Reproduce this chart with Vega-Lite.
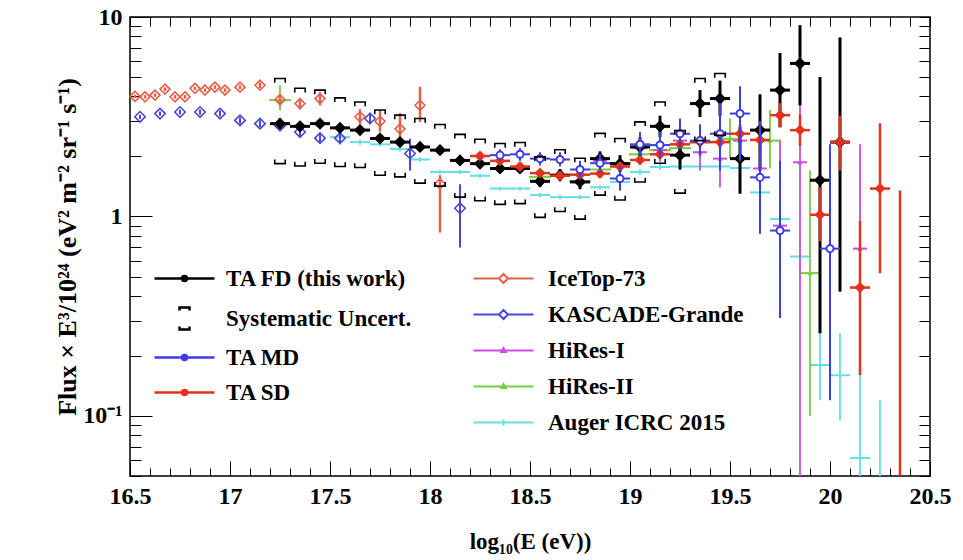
{
"$schema": "https://vega.github.io/schema/vega-lite/v6.json",
"width": 800, "height": 459,
"autosize": {"type": "none"},
"padding": {"left": 130, "top": 17, "right": 33, "bottom": 84},
"background": "white",
"config": {"font": "Liberation Serif", "view": {"stroke": "black", "strokeWidth": 1.5}},
"datasets": {
"d": [
{"s":"FD","e":17.25,"v":2.92,"lo":2.75,"hi":3.10},
{"s":"FD","e":17.35,"v":2.83,"lo":2.68,"hi":2.98},
{"s":"FD","e":17.45,"v":2.92,"lo":2.78,"hi":3.06},
{"s":"FD","e":17.55,"v":2.78,"lo":2.66,"hi":2.90},
{"s":"FD","e":17.65,"v":2.71,"lo":2.60,"hi":2.83},
{"s":"FD","e":17.75,"v":2.46,"lo":2.36,"hi":2.56},
{"s":"FD","e":17.85,"v":2.36,"lo":2.27,"hi":2.46},
{"s":"FD","e":17.95,"v":2.23,"lo":2.14,"hi":2.33},
{"s":"FD","e":18.05,"v":2.15,"lo":2.06,"hi":2.25},
{"s":"FD","e":18.15,"v":1.91,"lo":1.83,"hi":2.00},
{"s":"FD","e":18.25,"v":1.84,"lo":1.76,"hi":1.93},
{"s":"FD","e":18.35,"v":1.74,"lo":1.66,"hi":1.83},
{"s":"FD","e":18.45,"v":1.74,"lo":1.65,"hi":1.84},
{"s":"FD","e":18.55,"v":1.50,"lo":1.41,"hi":1.60},
{"s":"FD","e":18.65,"v":1.61,"lo":1.50,"hi":1.73},
{"s":"FD","e":18.75,"v":1.49,"lo":1.37,"hi":1.62},
{"s":"FD","e":18.85,"v":1.95,"lo":1.80,"hi":2.12},
{"s":"FD","e":18.95,"v":1.84,"lo":1.67,"hi":2.03},
{"s":"FD","e":19.05,"v":2.23,"lo":2.00,"hi":2.50},
{"s":"FD","e":19.15,"v":2.83,"lo":2.50,"hi":3.20},
{"s":"FD","e":19.25,"v":2.03,"lo":1.72,"hi":2.40},
{"s":"FD","e":19.35,"v":3.68,"lo":3.15,"hi":4.30},
{"s":"FD","e":19.45,"v":3.90,"lo":3.20,"hi":4.80},
{"s":"FD","e":19.55,"v":1.95,"lo":1.30,"hi":2.80},
{"s":"FD","e":19.65,"v":2.71,"lo":1.75,"hi":4.10},
{"s":"FD","e":19.75,"v":4.30,"lo":2.80,"hi":6.60},
{"s":"FD","e":19.85,"v":5.85,"lo":3.60,"hi":9.10},
{"s":"FD","e":19.95,"v":1.52,"lo":0.26,"hi":5.00},
{"s":"FD","e":20.05,"v":2.36,"lo":0.42,"hi":7.90},
{"s":"SD","e":18.25,"v":2.01,"lo":1.93,"hi":2.10},
{"s":"SD","e":18.35,"v":1.90,"lo":1.84,"hi":1.96},
{"s":"SD","e":18.45,"v":1.78,"lo":1.73,"hi":1.83},
{"s":"SD","e":18.55,"v":1.65,"lo":1.60,"hi":1.70},
{"s":"SD","e":18.65,"v":1.60,"lo":1.56,"hi":1.64},
{"s":"SD","e":18.75,"v":1.62,"lo":1.58,"hi":1.67},
{"s":"SD","e":18.85,"v":1.64,"lo":1.59,"hi":1.69},
{"s":"SD","e":18.95,"v":1.78,"lo":1.72,"hi":1.84},
{"s":"SD","e":19.05,"v":1.92,"lo":1.85,"hi":2.00},
{"s":"SD","e":19.15,"v":2.05,"lo":1.96,"hi":2.15},
{"s":"SD","e":19.25,"v":2.30,"lo":2.18,"hi":2.43},
{"s":"SD","e":19.35,"v":2.36,"lo":2.20,"hi":2.53},
{"s":"SD","e":19.45,"v":2.36,"lo":2.17,"hi":2.57},
{"s":"SD","e":19.55,"v":2.60,"lo":2.35,"hi":2.90},
{"s":"SD","e":19.65,"v":2.42,"lo":2.12,"hi":2.78},
{"s":"SD","e":19.75,"v":3.22,"lo":2.80,"hi":3.70},
{"s":"SD","e":19.85,"v":2.71,"lo":2.25,"hi":3.25},
{"s":"SD","e":19.95,"v":1.02,"lo":0.75,"hi":1.40},
{"s":"SD","e":20.05,"v":2.36,"lo":1.70,"hi":3.20},
{"s":"SD","e":20.15,"v":0.44,"lo":0.16,"hi":0.95},
{"s":"SD","e":20.25,"v":1.38,"lo":0.52,"hi":2.93},
{"s":"SD","e":20.35,"v":0.02,"lo":0.02,"hi":1.35},
{"s":"MD","e":18.35,"v":2.03,"lo":1.90,"hi":2.17},
{"s":"MD","e":18.45,"v":2.05,"lo":1.90,"hi":2.20},
{"s":"MD","e":18.55,"v":1.95,"lo":1.80,"hi":2.10},
{"s":"MD","e":18.65,"v":1.93,"lo":1.78,"hi":2.10},
{"s":"MD","e":18.75,"v":1.72,"lo":1.55,"hi":1.90},
{"s":"MD","e":18.85,"v":1.85,"lo":1.65,"hi":2.05},
{"s":"MD","e":18.95,"v":1.55,"lo":1.35,"hi":1.78},
{"s":"MD","e":19.05,"v":2.30,"lo":2.00,"hi":2.65},
{"s":"MD","e":19.15,"v":2.28,"lo":1.95,"hi":2.65},
{"s":"MD","e":19.25,"v":2.60,"lo":2.20,"hi":3.10},
{"s":"MD","e":19.35,"v":2.40,"lo":2.00,"hi":2.90},
{"s":"MD","e":19.45,"v":2.60,"lo":1.70,"hi":3.70},
{"s":"MD","e":19.55,"v":3.28,"lo":1.90,"hi":4.50},
{"s":"MD","e":19.65,"v":1.57,"lo":0.82,"hi":3.00},
{"s":"MD","e":19.75,"v":0.85,"lo":0.31,"hi":1.90},
{"s":"MD","e":20.0,"v":0.69,"lo":0.12,"hi":2.30},
{"s":"KG","e":16.55,"v":3.16,"lo":3.08,"hi":3.24},
{"s":"KG","e":16.65,"v":3.28,"lo":3.20,"hi":3.36},
{"s":"KG","e":16.75,"v":3.34,"lo":3.25,"hi":3.43},
{"s":"KG","e":16.85,"v":3.34,"lo":3.24,"hi":3.44},
{"s":"KG","e":16.95,"v":3.28,"lo":3.17,"hi":3.39},
{"s":"KG","e":17.05,"v":3.03,"lo":2.92,"hi":3.14},
{"s":"KG","e":17.15,"v":2.92,"lo":2.80,"hi":3.04},
{"s":"KG","e":17.25,"v":2.85,"lo":2.72,"hi":2.98},
{"s":"KG","e":17.35,"v":2.65,"lo":2.50,"hi":2.80},
{"s":"KG","e":17.45,"v":2.47,"lo":2.35,"hi":2.60},
{"s":"KG","e":17.55,"v":2.47,"lo":2.30,"hi":2.65},
{"s":"KG","e":17.7,"v":3.10,"lo":2.90,"hi":3.30},
{"s":"KG","e":17.9,"v":2.07,"lo":1.70,"hi":2.45},
{"s":"KG","e":18.15,"v":1.10,"lo":0.70,"hi":1.45},
{"s":"IT","e":16.525,"v":4.00,"lo":3.92,"hi":4.08},
{"s":"IT","e":16.575,"v":3.98,"lo":3.90,"hi":4.06},
{"s":"IT","e":16.625,"v":4.06,"lo":3.98,"hi":4.14},
{"s":"IT","e":16.675,"v":4.35,"lo":4.26,"hi":4.44},
{"s":"IT","e":16.725,"v":3.98,"lo":3.90,"hi":4.06},
{"s":"IT","e":16.775,"v":3.98,"lo":3.90,"hi":4.06},
{"s":"IT","e":16.825,"v":4.39,"lo":4.30,"hi":4.48},
{"s":"IT","e":16.875,"v":4.30,"lo":4.21,"hi":4.39},
{"s":"IT","e":16.925,"v":4.45,"lo":4.36,"hi":4.54},
{"s":"IT","e":16.975,"v":4.30,"lo":4.21,"hi":4.39},
{"s":"IT","e":17.05,"v":4.45,"lo":4.35,"hi":4.55},
{"s":"IT","e":17.15,"v":4.55,"lo":4.40,"hi":4.70},
{"s":"IT","e":17.25,"v":3.85,"lo":3.60,"hi":4.10},
{"s":"IT","e":17.35,"v":3.68,"lo":3.45,"hi":3.90},
{"s":"IT","e":17.45,"v":3.90,"lo":3.60,"hi":4.20},
{"s":"IT","e":17.65,"v":3.16,"lo":2.90,"hi":3.45},
{"s":"IT","e":17.75,"v":3.00,"lo":2.66,"hi":3.42},
{"s":"IT","e":17.85,"v":2.75,"lo":2.50,"hi":3.30},
{"s":"IT","e":17.95,"v":3.61,"lo":2.98,"hi":4.47},
{"s":"IT","e":18.05,"v":1.46,"lo":0.83,"hi":1.61},
{"s":"H1","e":18.85,"v":1.90,"lo":1.75,"hi":2.06},
{"s":"H1","e":18.95,"v":1.80,"lo":1.62,"hi":2.00},
{"s":"H1","e":19.05,"v":2.20,"lo":1.95,"hi":2.48},
{"s":"H1","e":19.15,"v":2.15,"lo":1.88,"hi":2.46},
{"s":"H1","e":19.25,"v":2.40,"lo":2.05,"hi":2.80},
{"s":"H1","e":19.35,"v":2.10,"lo":1.70,"hi":2.60},
{"s":"H1","e":19.45,"v":1.95,"lo":1.40,"hi":2.50},
{"s":"H1","e":19.55,"v":2.40,"lo":1.75,"hi":3.20},
{"s":"H1","e":19.65,"v":1.74,"lo":0.95,"hi":2.70},
{"s":"H1","e":19.75,"v":0.90,"lo":0.31,"hi":2.40},
{"s":"H1","e":19.85,"v":1.87,"lo":0.04,"hi":3.80},
{"s":"H1","e":20.15,"v":0.69,"lo":0.31,"hi":2.30},
{"s":"H2","e":17.25,"v":3.83,"lo":3.40,"hi":4.55},
{"s":"H2","e":18.55,"v":1.58,"lo":1.50,"hi":1.66},
{"s":"H2","e":18.65,"v":1.62,"lo":1.53,"hi":1.71},
{"s":"H2","e":18.75,"v":1.50,"lo":1.40,"hi":1.60},
{"s":"H2","e":18.85,"v":1.72,"lo":1.60,"hi":1.85},
{"s":"H2","e":18.95,"v":1.85,"lo":1.70,"hi":2.00},
{"s":"H2","e":19.05,"v":2.05,"lo":1.87,"hi":2.25},
{"s":"H2","e":19.15,"v":2.15,"lo":1.93,"hi":2.40},
{"s":"H2","e":19.25,"v":2.20,"lo":1.95,"hi":2.50},
{"s":"H2","e":19.35,"v":2.35,"lo":2.05,"hi":2.70},
{"s":"H2","e":19.5,"v":2.45,"lo":1.95,"hi":3.10},
{"s":"H2","e":19.7,"v":2.40,"lo":1.74,"hi":3.42},
{"s":"H2","e":19.9,"v":0.52,"lo":0.10,"hi":1.70},
{"s":"AU","e":17.55,"v":2.50,"lo":2.42,"hi":2.58},
{"s":"AU","e":17.65,"v":2.36,"lo":2.29,"hi":2.43},
{"s":"AU","e":17.75,"v":2.30,"lo":2.24,"hi":2.36},
{"s":"AU","e":17.85,"v":2.18,"lo":2.12,"hi":2.24},
{"s":"AU","e":17.95,"v":1.93,"lo":1.88,"hi":1.98},
{"s":"AU","e":18.05,"v":1.67,"lo":1.63,"hi":1.71},
{"s":"AU","e":18.15,"v":1.67,"lo":1.63,"hi":1.71},
{"s":"AU","e":18.25,"v":1.60,"lo":1.56,"hi":1.64},
{"s":"AU","e":18.35,"v":1.38,"lo":1.35,"hi":1.41},
{"s":"AU","e":18.45,"v":1.38,"lo":1.35,"hi":1.41},
{"s":"AU","e":18.55,"v":1.28,"lo":1.25,"hi":1.31},
{"s":"AU","e":18.65,"v":1.25,"lo":1.22,"hi":1.28},
{"s":"AU","e":18.75,"v":1.25,"lo":1.22,"hi":1.28},
{"s":"AU","e":18.85,"v":1.40,"lo":1.37,"hi":1.43},
{"s":"AU","e":18.95,"v":1.49,"lo":1.45,"hi":1.53},
{"s":"AU","e":19.05,"v":1.67,"lo":1.62,"hi":1.72},
{"s":"AU","e":19.15,"v":1.77,"lo":1.71,"hi":1.83},
{"s":"AU","e":19.25,"v":1.78,"lo":1.71,"hi":1.85},
{"s":"AU","e":19.35,"v":1.78,"lo":1.70,"hi":1.86},
{"s":"AU","e":19.45,"v":1.78,"lo":1.68,"hi":1.88},
{"s":"AU","e":19.55,"v":1.75,"lo":1.62,"hi":1.88},
{"s":"AU","e":19.65,"v":1.32,"lo":1.17,"hi":1.48},
{"s":"AU","e":19.75,"v":0.97,"lo":0.82,"hi":1.14},
{"s":"AU","e":19.85,"v":0.63,"lo":0.50,"hi":0.78},
{"s":"AU","e":19.95,"v":0.18,"lo":0.12,"hi":0.27},
{"s":"AU","e":20.05,"v":0.16,"lo":0.095,"hi":0.26},
{"s":"AU","e":20.15,"v":0.0615,"lo":0.03,"hi":0.16},
{"s":"AU","e":20.25,"v":0.03,"lo":0.01,"hi":0.12}
],
"sys": [
{"e":17.25,"up":4.92,"dn":1.84},
{"e":17.35,"up":4.39,"dn":1.79},
{"e":17.45,"up":4.30,"dn":1.85},
{"e":17.55,"up":3.93,"dn":1.78},
{"e":17.65,"up":3.75,"dn":1.76},
{"e":17.75,"up":3.42,"dn":1.61},
{"e":17.85,"up":3.22,"dn":1.58},
{"e":17.95,"up":3.10,"dn":1.47},
{"e":18.05,"up":2.89,"dn":1.42},
{"e":18.15,"up":2.58,"dn":1.25},
{"e":18.25,"up":2.44,"dn":1.20},
{"e":18.35,"up":2.32,"dn":1.15},
{"e":18.45,"up":2.35,"dn":1.16},
{"e":18.55,"up":1.99,"dn":0.99},
{"e":18.65,"up":2.16,"dn":1.06},
{"e":18.75,"up":1.96,"dn":0.97},
{"e":18.85,"up":2.61,"dn":1.28},
{"e":18.95,"up":2.46,"dn":1.21},
{"e":19.05,"up":2.98,"dn":1.49},
{"e":19.15,"up":3.75,"dn":1.85},
{"e":19.25,"up":2.70,"dn":1.31},
{"e":19.35,"up":4.92,"dn":2.40},
{"e":19.45,"up":5.21,"dn":2.55}
]
},
"layer": [
{"data":{"name":"sys"},"mark":{"type":"point","opacity":0},
 "encoding":{
  "x":{"field":"e","type":"quantitative","scale":{"domain":[16.5,20.5],"nice":false,"zero":false},
   "axis":{"orient":"bottom","values":[16.5,16.6,16.7,16.8,16.9,17,17.1,17.2,17.3,17.4,17.5,17.6,17.7,17.8,17.9,18,18.1,18.2,18.3,18.4,18.5,18.6,18.7,18.8,18.9,19,19.1,19.2,19.3,19.4,19.5,19.6,19.7,19.8,19.9,20,20.1,20.2,20.3,20.4,20.5],
    "tickSize":{"condition":{"test":"abs(datum.value*2-round(datum.value*2))<0.001","value":-15},"value":-8},
    "tickColor":"black","domain":false,"grid":false,
    "labelExpr":"abs(datum.value*2-round(datum.value*2))<0.001 ? toString(round(datum.value*10)/10) : ''",
    "labelFont":"Liberation Serif","labelFontWeight":"bold","labelFontSize":24,"labelColor":"black","labelPadding":23,
    "labelFlush":false,"labelOverlap":false,"labelBound":false,
    "title":"log₁₀(E (eV))","titleFont":"Liberation Serif","titleFontWeight":"bold","titleFontSize":23,"titleColor":"black","titlePadding":15}},
  "y":{"field":"up","type":"quantitative","scale":{"type":"log","domain":[0.05,10],"nice":false,"clamp":true},"axis":null}}},
{"data":{"name":"sys"},"mark":{"type":"point","opacity":0},
 "encoding":{
  "x":{"field":"e","type":"quantitative","scale":{"domain":[16.5,20.5],"nice":false,"zero":false},
   "axis":{"orient":"top","values":[16.5,16.6,16.7,16.8,16.9,17,17.1,17.2,17.3,17.4,17.5,17.6,17.7,17.8,17.9,18,18.1,18.2,18.3,18.4,18.5,18.6,18.7,18.8,18.9,19,19.1,19.2,19.3,19.4,19.5,19.6,19.7,19.8,19.9,20,20.1,20.2,20.3,20.4,20.5],
    "tickSize":-9,"tickColor":"black","domain":false,"grid":false,"labels":false,"title":null}},
  "y":{"field":"up","type":"quantitative","scale":{"type":"log","domain":[0.05,10],"nice":false,"clamp":true},"axis":null}}},
{"data":{"name":"sys"},"mark":{"type":"point","opacity":0},
 "encoding":{
  "x":{"field":"e","type":"quantitative","scale":{"domain":[16.5,20.5],"nice":false,"zero":false},"axis":null},
  "y":{"field":"up","type":"quantitative","scale":{"type":"log","domain":[0.05,10],"nice":false,"clamp":true},
   "axis":{"orient":"left","values":[0.05,0.06,0.07,0.08,0.09,0.1,0.2,0.3,0.4,0.5,0.6,0.7,0.8,0.9,1,2,3,4,5,6,7,8,9,10],
    "tickSize":{"condition":{"test":"datum.value==0.1||datum.value==1||datum.value==10","value":-22},"value":-11},
    "tickColor":"black","domain":false,"grid":false,
    "labelExpr":"datum.value==10 ? '10' : datum.value==1 ? '1' : datum.value==0.1 ? '10⁻¹' : ''",
    "labelFont":"Liberation Serif","labelFontWeight":"bold","labelFontSize":24,"labelColor":"black","labelPadding":30,
    "labelFlush":false,"labelOverlap":false,"labelBound":false,
    "title":"Flux × E³/10²⁴ (eV² m⁻² sr⁻¹ s⁻¹)","titleFont":"Liberation Serif","titleFontWeight":"bold","titleFontSize":26,"titleColor":"black","titlePadding":2}}}},
{"data":{"name":"sys"},"mark":{"type":"point","opacity":0},
 "encoding":{
  "x":{"field":"e","type":"quantitative","scale":{"domain":[16.5,20.5],"nice":false,"zero":false},"axis":null},
  "y":{"field":"up","type":"quantitative","scale":{"type":"log","domain":[0.05,10],"nice":false,"clamp":true},
   "axis":{"orient":"right","values":[0.05,0.06,0.07,0.08,0.09,0.1,0.2,0.3,0.4,0.5,0.6,0.7,0.8,0.9,1,2,3,4,5,6,7,8,9,10],
    "tickSize":-11,"tickColor":"black","domain":false,"grid":false,"labels":false,"title":null}}}},

{"data":{"name":"d"},"transform":[{"filter":"datum.s=='AU'"}],"mark":{"type":"rule","color":"#5fe0e3","strokeWidth":1.8},
 "encoding":{"x":{"field":"e","type":"quantitative","axis":null},"y":{"field":"lo","type":"quantitative","scale":{"type":"log"},"axis":null},"y2":{"field":"hi"}}},
{"data":{"name":"d"},"transform":[{"filter":"datum.s=='AU' && datum.v>=0.05"}],"mark":{"type":"tick","orient":"horizontal","color":"#5fe0e3","size":20,"thickness":2,"opacity":1},
 "encoding":{"x":{"field":"e","type":"quantitative","axis":null},"y":{"field":"v","type":"quantitative","scale":{"type":"log"},"axis":null}}},
{"data":{"name":"d"},"transform":[{"filter":"datum.s=='H2'"}],"mark":{"type":"rule","color":"#74cf3c","strokeWidth":1.8},
 "encoding":{"x":{"field":"e","type":"quantitative","axis":null},"y":{"field":"lo","type":"quantitative","scale":{"type":"log"},"axis":null},"y2":{"field":"hi"}}},
{"data":{"name":"d"},"transform":[{"filter":"datum.s=='H2'"}],"mark":{"type":"tick","orient":"horizontal","color":"#74cf3c","size":22,"thickness":2,"opacity":1},
 "encoding":{"x":{"field":"e","type":"quantitative","axis":null},"y":{"field":"v","type":"quantitative","scale":{"type":"log"},"axis":null}}},
{"data":{"name":"d"},"transform":[{"filter":"datum.s=='H2'"}],"mark":{"type":"point","shape":"triangle-up","filled":true,"color":"#74cf3c","size":25,"opacity":1},
 "encoding":{"x":{"field":"e","type":"quantitative","axis":null},"y":{"field":"v","type":"quantitative","scale":{"type":"log"},"axis":null}}},
{"data":{"name":"d"},"transform":[{"filter":"datum.s=='H1'"}],"mark":{"type":"rule","color":"#cc4ddf","strokeWidth":1.8},
 "encoding":{"x":{"field":"e","type":"quantitative","axis":null},"y":{"field":"lo","type":"quantitative","scale":{"type":"log"},"axis":null},"y2":{"field":"hi"}}},
{"data":{"name":"d"},"transform":[{"filter":"datum.s=='H1'"}],"mark":{"type":"tick","orient":"horizontal","color":"#cc4ddf","size":14,"thickness":2,"opacity":1},
 "encoding":{"x":{"field":"e","type":"quantitative","axis":null},"y":{"field":"v","type":"quantitative","scale":{"type":"log"},"axis":null}}},
{"data":{"name":"d"},"transform":[{"filter":"datum.s=='H1'"}],"mark":{"type":"point","shape":"triangle-up","filled":true,"color":"#cc4ddf","size":25,"opacity":1},
 "encoding":{"x":{"field":"e","type":"quantitative","axis":null},"y":{"field":"v","type":"quantitative","scale":{"type":"log"},"axis":null}}},
{"data":{"name":"d"},"transform":[{"filter":"datum.s=='KG'"}],"mark":{"type":"rule","color":"#4848d8","strokeWidth":2},
 "encoding":{"x":{"field":"e","type":"quantitative","axis":null},"y":{"field":"lo","type":"quantitative","scale":{"type":"log"},"axis":null},"y2":{"field":"hi"}}},
{"data":{"name":"d"},"transform":[{"filter":"datum.s=='KG'"}],"mark":{"type":"point","shape":"diamond","filled":false,"color":"#4848d8","strokeWidth":1.6,"size":110,"opacity":1},
 "encoding":{"x":{"field":"e","type":"quantitative","axis":null},"y":{"field":"v","type":"quantitative","scale":{"type":"log"},"axis":null}}},
{"data":{"name":"d"},"transform":[{"filter":"datum.s=='IT'"}],"mark":{"type":"rule","color":"#e4604a","strokeWidth":2.5},
 "encoding":{"x":{"field":"e","type":"quantitative","axis":null},"y":{"field":"lo","type":"quantitative","scale":{"type":"log"},"axis":null},"y2":{"field":"hi"}}},
{"data":{"name":"d"},"transform":[{"filter":"datum.s=='IT'"}],"mark":{"type":"point","shape":"diamond","filled":false,"color":"#e4604a","strokeWidth":1.6,"size":100,"opacity":1},
 "encoding":{"x":{"field":"e","type":"quantitative","axis":null},"y":{"field":"v","type":"quantitative","scale":{"type":"log"},"axis":null}}},

{"data":{"name":"d"},"transform":[{"filter":"datum.s=='FD'"}],"mark":{"type":"rule","color":"black","strokeWidth":3},
 "encoding":{"x":{"field":"e","type":"quantitative","axis":null},"y":{"field":"lo","type":"quantitative","scale":{"type":"log"},"axis":null},"y2":{"field":"hi"}}},
{"data":{"name":"d"},"transform":[{"filter":"datum.s=='FD'"}],"mark":{"type":"tick","orient":"horizontal","color":"black","size":20,"thickness":3,"opacity":1},
 "encoding":{"x":{"field":"e","type":"quantitative","axis":null},"y":{"field":"v","type":"quantitative","scale":{"type":"log"},"axis":null}}},
{"data":{"name":"d"},"transform":[{"filter":"datum.s=='FD'"}],"mark":{"type":"point","shape":"diamond","filled":true,"color":"black","size":150,"opacity":1},
 "encoding":{"x":{"field":"e","type":"quantitative","axis":null},"y":{"field":"v","type":"quantitative","scale":{"type":"log"},"axis":null}}},
{"data":{"name":"d"},"transform":[{"filter":"datum.s=='SD'"}],"mark":{"type":"rule","color":"#e2321e","strokeWidth":2.5},
 "encoding":{"x":{"field":"e","type":"quantitative","axis":null},"y":{"field":"lo","type":"quantitative","scale":{"type":"log"},"axis":null},"y2":{"field":"hi"}}},
{"data":{"name":"d"},"transform":[{"filter":"datum.s=='SD' && datum.v>=0.05"}],"mark":{"type":"tick","orient":"horizontal","color":"#e2321e","size":20,"thickness":2.5,"opacity":1},
 "encoding":{"x":{"field":"e","type":"quantitative","axis":null},"y":{"field":"v","type":"quantitative","scale":{"type":"log"},"axis":null}}},
{"data":{"name":"d"},"transform":[{"filter":"datum.s=='SD' && datum.v>=0.05"}],"mark":{"type":"point","shape":"diamond","filled":true,"color":"#e2321e","size":120,"opacity":1},
 "encoding":{"x":{"field":"e","type":"quantitative","axis":null},"y":{"field":"v","type":"quantitative","scale":{"type":"log"},"axis":null}}},
{"data":{"name":"d"},"transform":[{"filter":"datum.s=='MD'"}],"mark":{"type":"rule","color":"#3d3de6","strokeWidth":2},
 "encoding":{"x":{"field":"e","type":"quantitative","axis":null},"y":{"field":"lo","type":"quantitative","scale":{"type":"log"},"axis":null},"y2":{"field":"hi"}}},
{"data":{"name":"d"},"transform":[{"filter":"datum.s=='MD'"}],"mark":{"type":"tick","orient":"horizontal","color":"#3d3de6","size":20,"thickness":2,"opacity":1},
 "encoding":{"x":{"field":"e","type":"quantitative","axis":null},"y":{"field":"v","type":"quantitative","scale":{"type":"log"},"axis":null}}},
{"data":{"name":"d"},"transform":[{"filter":"datum.s=='MD'"}],"mark":{"type":"point","shape":"circle","filled":true,"fill":"white","stroke":"#3d3de6","strokeWidth":2,"size":50,"opacity":1},
 "encoding":{"x":{"field":"e","type":"quantitative","axis":null},"y":{"field":"v","type":"quantitative","scale":{"type":"log"},"axis":null}}},
{"data":{"name":"sys"},"mark":{"type":"point","shape":"M-1,0.8V0H1V0.8","filled":false,"color":"black","strokeWidth":1.6,"size":110,"opacity":1},
 "encoding":{"x":{"field":"e","type":"quantitative","axis":null},"y":{"field":"up","type":"quantitative","scale":{"type":"log"},"axis":null}}},
{"data":{"name":"sys"},"mark":{"type":"point","shape":"M-1,-0.8V0H1V-0.8","filled":false,"color":"black","strokeWidth":1.6,"size":110,"opacity":1},
 "encoding":{"x":{"field":"e","type":"quantitative","axis":null},"y":{"field":"dn","type":"quantitative","scale":{"type":"log"},"axis":null}}},

{"data":{"name":"sys"},"transform":[{"filter":"false"}],"mark":{"type":"point","filled":false,"strokeWidth":2.5,"size":400,"opacity":1},
 "encoding":{
  "x":{"field":"e","type":"quantitative","axis":null},
  "y":{"field":"up","type":"quantitative","scale":{"type":"log"},"axis":null},
  "color":{"field":"s","type":"nominal",
   "scale":{"domain":["TA FD (this work)","Systematic Uncert.","TA MD","TA SD"],"range":["black","black","#3d3de6","#e2321e"]},
   "legend":{"orient":"none","legendX":43,"legendY":250,"title":null,"padding":0,"labelFont":"Liberation Serif","labelFontWeight":"bold","labelFontSize":23,"labelColor":"black","labelOffset":30,"labelLimit":400,"symbolSize":400,"symbolStrokeWidth":2.5,"rowPadding":11}},
  "shape":{"field":"s","type":"nominal",
   "scale":{"domain":["TA FD (this work)","Systematic Uncert.","TA MD","TA SD"],
    "range":["M-3,0H3M0.25,0A0.25,0.25,0,1,1,-0.25,0A0.25,0.25,0,1,1,0.25,0M0.1,0A0.1,0.1,0,1,1,-0.1,0A0.1,0.1,0,1,1,0.1,0",
             "M-0.5,-0.8V-1.1H0.5V-0.8M-0.5,0.8V1.1H0.5V0.8",
             "M-3,0H3M0.25,0A0.25,0.25,0,1,1,-0.25,0A0.25,0.25,0,1,1,0.25,0M0.1,0A0.1,0.1,0,1,1,-0.1,0A0.1,0.1,0,1,1,0.1,0",
             "M-3,0H3M0.25,0A0.25,0.25,0,1,1,-0.25,0A0.25,0.25,0,1,1,0.25,0M0.1,0A0.1,0.1,0,1,1,-0.1,0A0.1,0.1,0,1,1,0.1,0"]},
   "legend":{"orient":"none","legendX":43,"legendY":250,"title":null,"padding":0,"labelFont":"Liberation Serif","labelFontWeight":"bold","labelFontSize":23,"labelColor":"black","labelOffset":30,"labelLimit":400,"symbolSize":400,"symbolStrokeWidth":2.5,"rowPadding":11}}}},
{"data":{"name":"sys"},"transform":[{"filter":"false"}],"mark":{"type":"point","filled":false,"strokeWidth":2,"size":400,"opacity":1},
 "encoding":{
  "x":{"field":"e","type":"quantitative","axis":null},
  "y":{"field":"up","type":"quantitative","scale":{"type":"log"},"axis":null},
  "color":{"field":"s","type":"nominal",
   "scale":{"domain":["IceTop-73","KASCADE-Grande","HiRes-I","HiRes-II","Auger ICRC 2015"],"range":["#e4604a","#4848d8","#cc4ddf","#74cf3c","#5fe0e3"]},
   "legend":{"orient":"none","legendX":362,"legendY":250,"title":null,"padding":0,"labelFont":"Liberation Serif","labelFontWeight":"bold","labelFontSize":23,"labelColor":"black","labelOffset":33,"labelLimit":400,"symbolSize":400,"symbolStrokeWidth":2,"rowPadding":12}},
  "shape":{"field":"s","type":"nominal",
   "scale":{"domain":["IceTop-73","KASCADE-Grande","HiRes-I","HiRes-II","Auger ICRC 2015"],
    "range":["M-3,0H-0.45M0.45,0H3M0,-0.45L0.45,0L0,0.45L-0.45,0Z",
             "M-3,0H-0.45M0.45,0H3M0,-0.45L0.45,0L0,0.45L-0.45,0Z",
             "M-3,0H3M0,-0.25L0.22,0.15H-0.22Z",
             "M-3,0H3M0,-0.25L0.22,0.15H-0.22Z",
             "M-3,0H3M0,-0.3V0.3"]},
   "legend":{"orient":"none","legendX":362,"legendY":250,"title":null,"padding":0,"labelFont":"Liberation Serif","labelFontWeight":"bold","labelFontSize":23,"labelColor":"black","labelOffset":33,"labelLimit":400,"symbolSize":400,"symbolStrokeWidth":2,"rowPadding":12}}}}
],
"resolve": {"axis": {"x": "independent", "y": "independent"}, "scale": {"color": "independent", "shape": "independent"}}
}
